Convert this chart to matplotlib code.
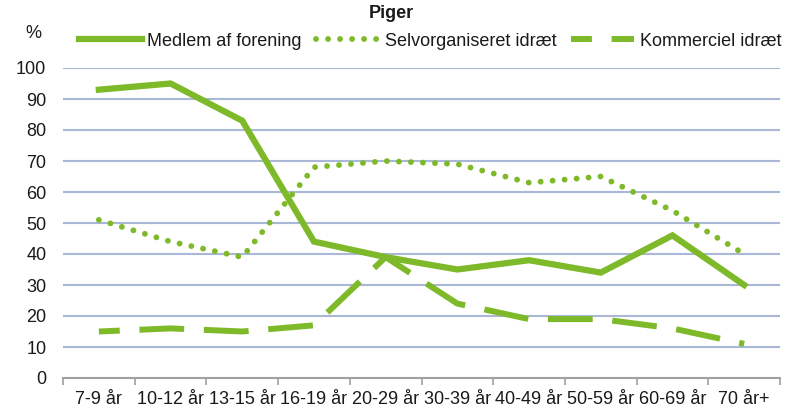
import matplotlib
matplotlib.use("Agg")
import matplotlib.pyplot as plt
from matplotlib.ticker import FixedLocator, NullFormatter, FixedFormatter

plt.rcParams['font.family'] = ['Liberation Sans', 'DejaVu Sans']

categories = ["7-9 år", "10-12 år", "13-15 år", "16-19 år", "20-29 år",
              "30-39 år", "40-49 år", "50-59 år", "60-69 år", "70 år+"]
medlem = [93, 95, 83, 44, 39, 35, 38, 34, 46, 30]
selvorg = [51, 44, 39, 68, 70, 69, 63, 65, 54, 40]
kommerciel = [15, 16, 15, 17, 39, 24, 19, 19, 16, 11]
yticks = list(range(0, 101, 10))

green = "#7DB928"
grid_c = "#A9B8D6"
txt = "#1a1a1a"
fs = 13

fig = plt.figure(figsize=(8.02, 4.09), dpi=100)
ax = fig.add_axes([63/802, 1-378/409, (780-63)/802, (378-68)/409])

x = list(range(len(categories)))
for yv in yticks[1:]:
    ax.axhline(yv, color=grid_c, lw=1.5, zorder=1)

l1, = ax.plot(x, medlem, color=green, lw=4.5, solid_joinstyle='miter', zorder=3,
              label="Medlem af forening")
l2, = ax.plot(x, selvorg, color=green, lw=4.2, linestyle=(0, (0.01, 2.05)),
              dash_capstyle='round', zorder=3, label="Selvorganiseret idræt")
l3, = ax.plot(x, kommerciel, color=green, lw=4.3, linestyle=(4.0, (7.5, 3.3)),
              dash_capstyle='butt', zorder=3, label="Kommerciel idræt")

ax.set_xlim(-0.5, len(categories) - 0.5)
ax.set_ylim(0, 100)
ax.set_yticks(yticks)
ax.tick_params(axis='y', length=0, pad=12, labelsize=fs, labelcolor=txt)

ax.xaxis.set_major_locator(FixedLocator([i - 0.5 for i in range(len(categories) + 1)]))
ax.xaxis.set_major_formatter(NullFormatter())
ax.xaxis.set_minor_locator(FixedLocator(x))
ax.xaxis.set_minor_formatter(FixedFormatter(categories))
ax.tick_params(axis='x', which='major', length=5, width=1.2, color='#A0A0A0')
ax.tick_params(axis='x', which='minor', length=0, pad=9, labelsize=fs, labelcolor=txt)

for s in ['top', 'right', 'left']:
    ax.spines[s].set_visible(False)
ax.spines['bottom'].set_color('#A0A0A0')
ax.spines['bottom'].set_linewidth(1.5)

fig.text(391/802, 1-14/409, "Piger", ha='center', va='center', fontsize=fs,
         fontweight='bold', color=txt)
fig.text(33/802, 1-34/409, "%", ha='center', va='center', fontsize=fs, color=txt)

leg = fig.legend(handles=[l1, l2, l3], loc='center', ncol=3,
                 bbox_to_anchor=(430/802, 1-41/409), frameon=False, fontsize=fs,
                 handlelength=3.5, handletextpad=0.3, columnspacing=0.8,
                 labelcolor=txt, borderaxespad=0, borderpad=0)

fig.savefig("out.png", dpi=100)
